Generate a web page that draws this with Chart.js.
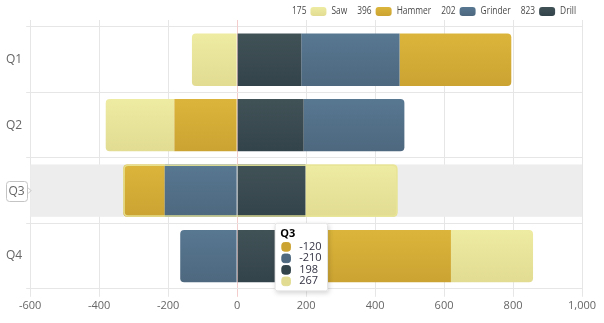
<!DOCTYPE html>
<html>
<head>
<meta charset="utf-8">
<script src="https://cdn.jsdelivr.net/npm/chart.js@4/dist/chart.umd.min.js"></script>
<style>
  body { margin: 0; background: #fff; }
</style>
</head>
<body>
<canvas id="chart" width="604" height="323"></canvas>
<script>
const categories = ['Q1', 'Q2', 'Q3', 'Q4'];
const seriesNames = ['Drill', 'Grinder', 'Hammer', 'Saw'];
const drill = [186, 193, 198, 246];
const grinder = [285, 292, -210, -165];
const hammer = [324, -182, -120, 374];
const saw = [-131, -199, 267, 238];
const legendTotals = [823, 202, 396, 175];
const xTicks = { min: -600, max: 1000, step: 200 };

// top / bottom colours of each bar gradient
const colors = [
  ['#415257', '#33434a'],
  ['#587791', '#4d687f'],
  ['#dbb53b', '#cba332'],
  ['#eeeba2', '#e1dc92']
];

const activeIndex = 2;

function barFill(i) {
  return function(ctx) {
    const chart = ctx.chart;
    const y = chart.scales.y;
    if (!chart.chartArea || !y || ctx.dataIndex === undefined) return colors[i][0];
    const step = y.height / categories.length;
    const c = y.getPixelForValue(ctx.dataIndex);
    const g = chart.ctx.createLinearGradient(0, c - step * 0.4, 0, c + step * 0.4);
    g.addColorStop(0, colors[i][0]);
    g.addColorStop(1, colors[i][1]);
    return g;
  };
}

const values = [drill, grinder, hammer, saw];

// legend drawn on the canvas: "total [box] name", reversed order, narrow text
const legendPlugin = {
  id: 'topLegend',
  afterDraw(chart) {
    const ctx = chart.ctx;
    const squeeze = 0.8;
    ctx.save();
    ctx.font = '10.5px "Open Sans", sans-serif';
    ctx.textBaseline = 'middle';
    ctx.fillStyle = '#4a4a4a';
    const cy = 11;
    const parts = [];
    let total = 0;
    for (let i = seriesNames.length - 1; i >= 0; i--) {
      const vw = ctx.measureText(String(legendTotals[i])).width * squeeze;
      const nw = ctx.measureText(seriesNames[i]).width * squeeze;
      parts.push({ i, vw, nw });
      total += vw + 4 + 16 + 5 + nw;
    }
    total += 10 * (parts.length - 1);
    let x = chart.chartArea.right - 6 - total;
    const text = (s, px) => {
      ctx.save();
      ctx.translate(px, cy);
      ctx.scale(squeeze, 1);
      ctx.fillText(s, 0, 0);
      ctx.restore();
    };
    parts.forEach(p => {
      text(String(legendTotals[p.i]), x);
      x += p.vw + 4;
      const g = ctx.createLinearGradient(0, cy - 4, 0, cy + 5);
      g.addColorStop(0, colors[p.i][0]);
      g.addColorStop(1, colors[p.i][1]);
      ctx.fillStyle = g;
      ctx.beginPath();
      ctx.roundRect(x, cy - 4, 16, 9, 3);
      ctx.fill();
      ctx.fillStyle = '#4a4a4a';
      x += 16 + 5;
      text(seriesNames[p.i], x);
      x += p.nw + 10;
    });
    ctx.restore();
  }
};

const bandPlugin = {
  id: 'band',
  beforeDatasetsDraw(chart) {
    const {ctx, chartArea, scales} = chart;
    const step = scales.y.height / categories.length;
    const c = scales.y.getPixelForValue(activeIndex);
    ctx.save();
    // grid lines run a little above the plot
    scales.x.ticks.forEach(t => {
      const px = Math.round(scales.x.getPixelForValue(t.value)) + 0.5;
      ctx.strokeStyle = t.value === 0 ? '#f3cccc' : '#e6e6e6';
      ctx.beginPath();
      ctx.moveTo(px, chartArea.top - 7);
      ctx.lineTo(px, chartArea.top);
      ctx.stroke();
    });
    ctx.fillStyle = '#ededed';
    ctx.fillRect(chartArea.left, c - step * 0.4, chartArea.right - chartArea.left, step * 0.8);
    ctx.restore();
  },
  afterDatasetsDraw(chart) {
    // pale outline round the hovered stack
    const {ctx} = chart;
    let lo = Infinity, hi = -Infinity, top = 0, bottom = 0;
    chart.data.datasets.forEach((d, i) => {
      const el = chart.getDatasetMeta(i).data[activeIndex];
      lo = Math.min(lo, el.x, el.base);
      hi = Math.max(hi, el.x, el.base);
      top = el.y - el.height / 2;
      bottom = el.y + el.height / 2;
    });
    ctx.save();
    ctx.strokeStyle = 'rgba(232,228,150,0.9)';
    ctx.lineWidth = 1.5;
    ctx.beginPath();
    ctx.roundRect(lo + 0.75, top + 0.75, hi - lo - 1.5, bottom - top - 1.5, 4);
    ctx.stroke();
    ctx.restore();
  },
  beforeTooltipDraw(chart, args) {
    const t = args.tooltip;
    const {ctx} = chart;
    ctx.save();
    ctx.shadowColor = 'rgba(0,0,0,0.18)';
    ctx.shadowBlur = 5;
    ctx.shadowOffsetX = 1;
    ctx.shadowOffsetY = 2;
    ctx.fillStyle = '#fff';
    ctx.fillRect(t.x, t.y, t.width, t.height);
    ctx.restore();
  },
  afterDraw(chart) {
    const {ctx, scales} = chart;
    const c = scales.y.getPixelForValue(activeIndex);
    ctx.save();
    ctx.font = '12px "Open Sans", sans-serif';
    const w = ctx.measureText(categories[activeIndex]).width;
    const right = scales.y.right - 4;
    const left = right - w - 4;
    ctx.fillStyle = '#fff';
    ctx.strokeStyle = '#c4c4c4';
    ctx.lineWidth = 1;
    ctx.beginPath();
    ctx.roundRect(Math.round(left) + 0.5, Math.round(c - 10) + 0.5, Math.round(w + 5), 20, 3);
    ctx.fill();
    ctx.stroke();
    ctx.beginPath();
    ctx.moveTo(Math.round(right) + 2, c - 3);
    ctx.lineTo(Math.round(right) + 5, c);
    ctx.lineTo(Math.round(right) + 2, c + 3);
    ctx.stroke();
    ctx.fillStyle = '#666';
    ctx.textAlign = 'left';
    ctx.textBaseline = 'middle';
    ctx.fillText(categories[activeIndex], left + 2.5, c + 1);
    ctx.restore();
  }
};

Chart.Tooltip.positioners.below = function(items) {
  if (!items.length) return false;
  const chart = this.chart;
  const step = chart.scales.y.height / categories.length;
  return {
    x: chart.scales.x.getPixelForValue(116),
    y: chart.scales.y.getPixelForValue(items[0].index) + step / 2
  };
};

const tooltipOrder = [2, 1, 0, 3];

const chart = new Chart(document.getElementById('chart').getContext('2d'), {
  type: 'bar',
  data: {
    labels: categories,
    datasets: seriesNames.map((name, i) => ({
      label: name,
      data: values[i],
      backgroundColor: barFill(i),
      hoverBackgroundColor: barFill(i),
      borderRadius: 4,
      borderSkipped: 'start'
    }))
  },
  options: {
    indexAxis: 'y',
    responsive: false,
    animation: false,
    events: [],
    categoryPercentage: 0.8,
    barPercentage: 1,
    layout: { padding: { top: 27, right: 22, left: 2, bottom: 9 } },
    scales: {
      x: {
        stacked: true,
        min: xTicks.min,
        max: xTicks.max,
        ticks: { stepSize: xTicks.step, color: '#666', font: { family: 'Open Sans', size: 11 }, padding: 2 },
        grid: {
          color: c => c.tick && c.tick.value === 0 ? '#f3cccc' : '#e6e6e6',
          tickLength: 8
        },
        border: { display: false }
      },
      y: {
        stacked: true,
        ticks: { color: '#666', font: { family: 'Open Sans', size: 12 }, padding: 4 },
        grid: { color: '#e6e6e6', tickLength: 4 },
        border: { display: false }
      }
    },
    plugins: {
      legend: { display: false },
      tooltip: {
        position: 'below',
        xAlign: 'left',
        yAlign: 'top',
        caretSize: 0,
        caretPadding: 0,
        cornerRadius: 2,
        backgroundColor: '#fff',
        borderColor: '#e4e4e4',
        borderWidth: 1,
        titleColor: '#000',
        bodyColor: '#333344',
        titleFont: { family: 'Open Sans', size: 11, weight: 'bold', lineHeight: 1 },
        bodyFont: { family: 'Open Sans', size: 11, lineHeight: 1 },
        titleMarginBottom: 2,
        bodySpacing: 0.5,
        padding: { top: 5, left: 5, right: 6, bottom: 4 },
        usePointStyle: true,
        boxWidth: 12,
        boxHeight: 10,
        boxPadding: 5,
        itemSort: (a, b) => tooltipOrder.indexOf(a.datasetIndex) - tooltipOrder.indexOf(b.datasetIndex),
        callbacks: {
          label: c => String(c.raw),
          labelPointStyle: () => ({ pointStyle: 'rectRounded', rotation: 0 }),
          labelColor: c => ({ backgroundColor: colors[c.datasetIndex][1], borderColor: colors[c.datasetIndex][1], borderWidth: 0 })
        }
      }
    }
  },
  plugins: [bandPlugin, legendPlugin]
});

const active = seriesNames.map((n, i) => ({ datasetIndex: i, index: activeIndex }));
chart.tooltip.setActiveElements(active, { x: 0, y: 0 });
chart.render();
</script>
</body>
</html>
